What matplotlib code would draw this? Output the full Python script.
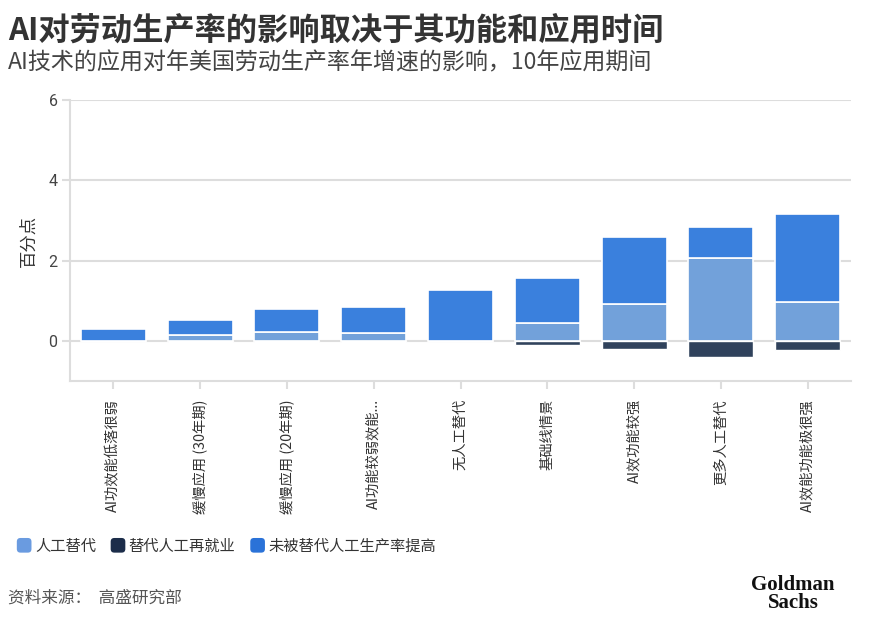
import matplotlib
matplotlib.use("Agg")
import matplotlib.pyplot as plt
from matplotlib.patches import FancyBboxPatch
from matplotlib.legend_handler import HandlerPatch
import numpy as np

plt.rcParams['font.family'] = ['Noto Sans CJK SC', 'DejaVu Sans']

categories = ["AI功效能低落很弱", "缓慢应用 (30年期)", "缓慢应用 (20年期)", "AI功能较弱效能...",
              "无人工替代", "基础线情景", "AI效功能较强", "更多人工替代", "AI效能功能极很强"]
# 人工替代 (light), 替代人工再就业 (dark, negative), 未被替代人工生产率提高 (blue)
substitution = [0.00, 0.15, 0.23, 0.19, 0.00, 0.45, 0.93, 2.07, 0.96]
reemployment = [0.00, -0.03, -0.04, -0.04, 0.00, -0.10, -0.21, -0.41, -0.22]
non_displaced = [0.29, 0.38, 0.56, 0.65, 1.27, 1.11, 1.65, 0.77, 2.19]
series_names = ["人工替代", "替代人工再就业", "未被替代人工生产率提高"]
yticks = [0, 2, 4, 6]

c_light = "#72a1da"
c_dark = "#30425c"
c_blue = "#3a80dd"
leg_light = "#6a9be0"
leg_dark = "#1c2d4a"
leg_blue = "#2a72d8"

W, H = 871, 627
fig = plt.figure(figsize=(W / 100, H / 100), dpi=100)
ax = fig.add_axes([70 / W, 1 - 381 / H, 781 / W, 281 / H])

x = np.arange(len(categories))
bw = 0.75
ax.bar(x, substitution, bw, color=c_light, edgecolor="white", linewidth=1.2, zorder=3)
ax.bar(x, non_displaced, bw, bottom=substitution, color=c_blue, edgecolor="white", linewidth=1.2, zorder=3)
ax.bar(x, reemployment, bw, color=c_dark, edgecolor="white", linewidth=1.0, zorder=3)

ax.set_xlim(-0.5, len(categories) - 0.5)
ax.set_ylim(-1, 6)
ax.set_yticks(yticks)
ax.set_yticklabels([str(v) for v in yticks], family=['Roboto', 'DejaVu Sans'], fontsize=11.5, color="#444444")
ax.set_xticks(x)
ax.set_xticklabels(categories, rotation=90, fontsize=10.3, color="#333333", va="top")
ax.grid(axis="y", color="#dddddd", linewidth=1.5, zorder=0)
for s in ["top", "right"]:
    ax.spines[s].set_visible(False)
for s in ["left", "bottom"]:
    ax.spines[s].set_color("#dddddd")
    ax.spines[s].set_linewidth(1.5)
ax.tick_params(axis="y", length=6, width=1.5, color="#dddddd", pad=3)
ax.tick_params(axis="x", length=6, width=1.5, color="#dddddd", pad=7)
ax.set_ylabel("百分点", fontsize=12.5, color="#333333", labelpad=8)

fig.text(8 / W, 1 - 30 / H, "AI对劳动生产率的影响取决于其功能和应用时间", fontsize=22.5, fontweight="bold",
         color="#333333", va="center", ha="left")
fig.text(8 / W, 1 - 63 / H, "AI技术的应用对年美国劳动生产率年增速的影响，10年应用期间", fontsize=16.6,
         color="#444444", va="center", ha="left")


class RoundHandler(HandlerPatch):
    def create_artists(self, legend, orig_handle, xdescent, ydescent, width, height, fontsize, trans):
        s = min(width, height)
        p = FancyBboxPatch((-xdescent + (width - s) / 2, -ydescent + (height - s) / 2), s, s,
                           boxstyle="round,pad=0,rounding_size=%f" % (s * 0.25),
                           facecolor=orig_handle.get_facecolor(), edgecolor="none", transform=trans)
        return [p]


handles = [FancyBboxPatch((0, 0), 1, 1, facecolor=c) for c in (leg_light, leg_dark, leg_blue)]
leg = fig.legend(handles, series_names, loc="center left", bbox_to_anchor=(2 / W, 1 - 546 / H),
                 ncol=3, frameon=False, fontsize=11, handlelength=1.1, handleheight=1.1,
                 handletextpad=0.15, columnspacing=0.9,
                 handler_map={FancyBboxPatch: RoundHandler()})
for t in leg.get_texts():
    t.set_color("#333333")

fig.text(8 / W, 1 - 598 / H, "资料来源：  高盛研究部", fontsize=12, color="#555555", va="center", ha="left")
fig.text(793 / W, 1 - 594 / H, "Goldman\nSachs", fontsize=15, fontweight="bold", family=["Liberation Serif"],
         color="#111111", va="center", ha="center", linespacing=0.85)

fig.savefig("out.png", dpi=100)
